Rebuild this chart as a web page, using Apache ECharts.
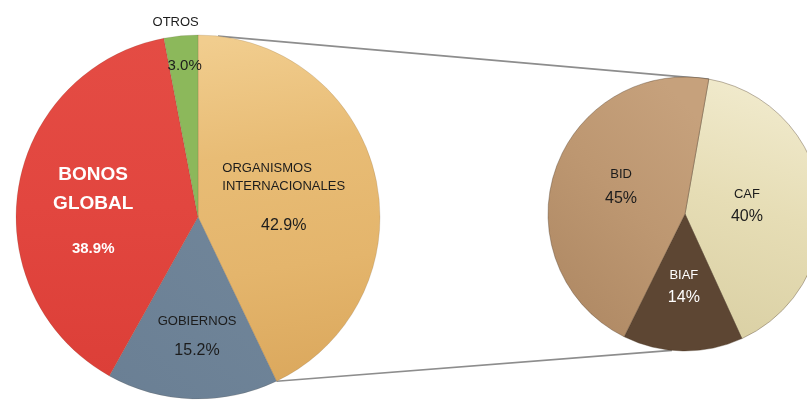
<!DOCTYPE html>
<html><head><meta charset="utf-8">
<script src="https://cdn.jsdelivr.net/npm/echarts@6/dist/echarts.min.js"></script>
<style>html,body{margin:0;padding:0;background:#fff}#c{width:807px;height:400px}</style>
</head><body><div id="c"></div>
<script>
// ---- data ----
const mainCategories = ['ORGANISMOS INTERNACIONALES', 'GOBIERNOS', 'BONOS GLOBAL', 'OTROS'];
const mainValues = [42.9, 15.2, 38.9, 3.0];
const subCategories = ['CAF', 'BIAF', 'BID'];
const subValues = [40, 14, 45];

// ---- styles ----
const SANS = '"Liberation Sans", Arial, sans-serif';
const DARK = '#1c1c1c';

function lin(stops, x, y, x2, y2) {
  return { type: 'linear', x: x, y: y, x2: x2, y2: y2,
    colorStops: stops.map((c, i) => ({ offset: i / (stops.length - 1), color: c })) };
}

const mainStyle = {
  'ORGANISMOS INTERNACIONALES': {
    color: lin(['#F1CD8E', '#E8BC75', '#E4B56C', '#DBA85D'], 0.3, 0, 0.6, 1),
    label: {
      padding: [22, 12, 0, 0],
      rich: {
        l: { fontFamily: SANS, fontSize: 13, color: DARK, lineHeight: 18, align: 'left' },
        n: { fontFamily: SANS, fontSize: 13, color: DARK, lineHeight: 18 },
        p: { fontFamily: SANS, fontSize: 16, color: DARK, lineHeight: 60 }
      },
      fmt: (w, p) => '{l|' + w[0] + '}\n{n|' + w.slice(1).join(' ') + '}\n{p|' + p + '}'
    }
  },
  'GOBIERNOS': {
    color: lin(['#6A7F94', '#71869A'], 0, 1, 1, 0),
    label: {
      padding: [61, 0, 0, 4],
      rich: {
        n: { fontFamily: SANS, fontSize: 13, color: DARK, lineHeight: 18 },
        p: { fontFamily: SANS, fontSize: 16, color: DARK, lineHeight: 40 }
      },
      fmt: (w, p) => '{n|' + w.join(' ') + '}\n{p|' + p + '}'
    }
  },
  'BONOS GLOBAL': {
    color: lin(['#E44C44', '#E2463F', '#DC3F38'], 0.5, 0, 0.5, 1),
    label: {
      padding: [35, 24, 0, 0],
      rich: {
        b: { fontFamily: SANS, fontSize: 19, fontWeight: 'bold', color: '#fff', lineHeight: 29 },
        w: { fontFamily: SANS, fontSize: 15, fontWeight: 'bold', color: '#fff', lineHeight: 60 }
      },
      fmt: (w, p) => w.map(x => '{b|' + x + '}').join('\n') + '\n{w|' + p + '}'
    }
  },
  'OTROS': {
    color: '#8CB85B',
    label: {
      padding: [0, 27, 133, 0],
      rich: {
        n: { fontFamily: SANS, fontSize: 13, color: DARK, lineHeight: 18 },
        q: { fontFamily: SANS, fontSize: 15, color: DARK, lineHeight: 68, padding: [0, 0, 0, 18] }
      },
      fmt: (w, p) => '{n|' + w.join(' ') + '}\n{q|' + p + '}'
    }
  }
};

const subStyle = {
  'CAF': {
    color: lin(['#DAD0A4', '#E6DDB5', '#F2ECD0'], 0.2, 1, 0.8, 0),
    label: { padding: [6, 18, 0, 0], dark: true, nl: 28 }
  },
  'BIAF': {
    color: '#5D4633',
    label: { padding: [7, 0, 0, 0], dark: false, nl: 28 }
  },
  'BID': {
    color: lin(['#B08A65', '#BD9771', '#C6A17C'], 0, 0.8, 1, 0.2),
    label: { padding: [0, 0, 4, 8], dark: true, nl: 30 }
  }
};

function mainItem(name, i) {
  const st = mainStyle[name];
  const pct = mainValues[i].toFixed(1) + '%';
  const words = name.split(' ');
  return {
    name: name, value: mainValues[i],
    itemStyle: { color: st.color },
    label: { show: true, position: 'inside', padding: st.label.padding, rich: st.label.rich,
      formatter: st.label.fmt(words, pct) }
  };
}
function subItem(name, i) {
  const st = subStyle[name];
  const col = st.label.dark ? DARK : '#fff';
  return {
    name: name, value: subValues[i],
    itemStyle: { color: st.color },
    label: { show: true, position: 'inside', padding: st.label.padding,
      rich: {
        n: { fontFamily: SANS, fontSize: 13, color: col, lineHeight: 18 },
        p: { fontFamily: SANS, fontSize: 16, color: col, lineHeight: st.label.nl }
      },
      formatter: '{n|' + name + '}\n{p|' + subValues[i] + '%}' }
  };
}

const chart = echarts.init(document.getElementById('c'), null, { renderer: 'canvas' });
const option = {
  backgroundColor: '#ffffff',
  animation: false,
  series: [
    {
      type: 'pie', center: [198, 217], radius: 182, startAngle: 90, clockwise: true,
      silent: true, labelLine: { show: false }, emphasis: { disabled: true },
      itemStyle: { borderColor: 'rgba(90,70,50,0.25)', borderWidth: 0.6 },
      data: mainCategories.map(mainItem)
    },
    {
      type: 'pie', center: [685, 214], radius: 137, startAngle: 80, clockwise: true,
      silent: true, labelLine: { show: false }, emphasis: { disabled: true },
      itemStyle: { borderColor: 'rgba(70,50,30,0.45)', borderWidth: 0.8 },
      data: subCategories.map(subItem)
    }
  ]
};
chart.setOption(option);

// connector lines derived from the pies' own layout
(function () {
  const m = chart.getModel();
  const L = m.getSeriesByIndex(0).getData();
  const R = m.getSeriesByIndex(1).getData();
  const lo = L.getItemLayout(0);
  const rt = R.getItemLayout(0);
  const rb = R.getItemLayout(1);
  const pt = (l, a) => [l.cx + l.r * Math.cos(a), l.cy + l.r * Math.sin(a)];
  const p1 = pt(lo, lo.startAngle + 0.11);
  const p2 = pt(lo, lo.endAngle);
  const q1 = pt(rt, rt.startAngle);
  const q2 = pt(rb, (rb.startAngle + rb.endAngle) / 2 + 0.08);
  const ls = { stroke: '#8d8d8d', lineWidth: 1.6 };
  chart.setOption({
    graphic: [
      { type: 'line', z: -1, silent: true, shape: { x1: p1[0], y1: p1[1], x2: q1[0], y2: q1[1] }, style: ls },
      { type: 'line', z: -1, silent: true, shape: { x1: p2[0], y1: p2[1], x2: q2[0], y2: q2[1] }, style: ls }
    ]
  });
})();
</script>
</body></html>
